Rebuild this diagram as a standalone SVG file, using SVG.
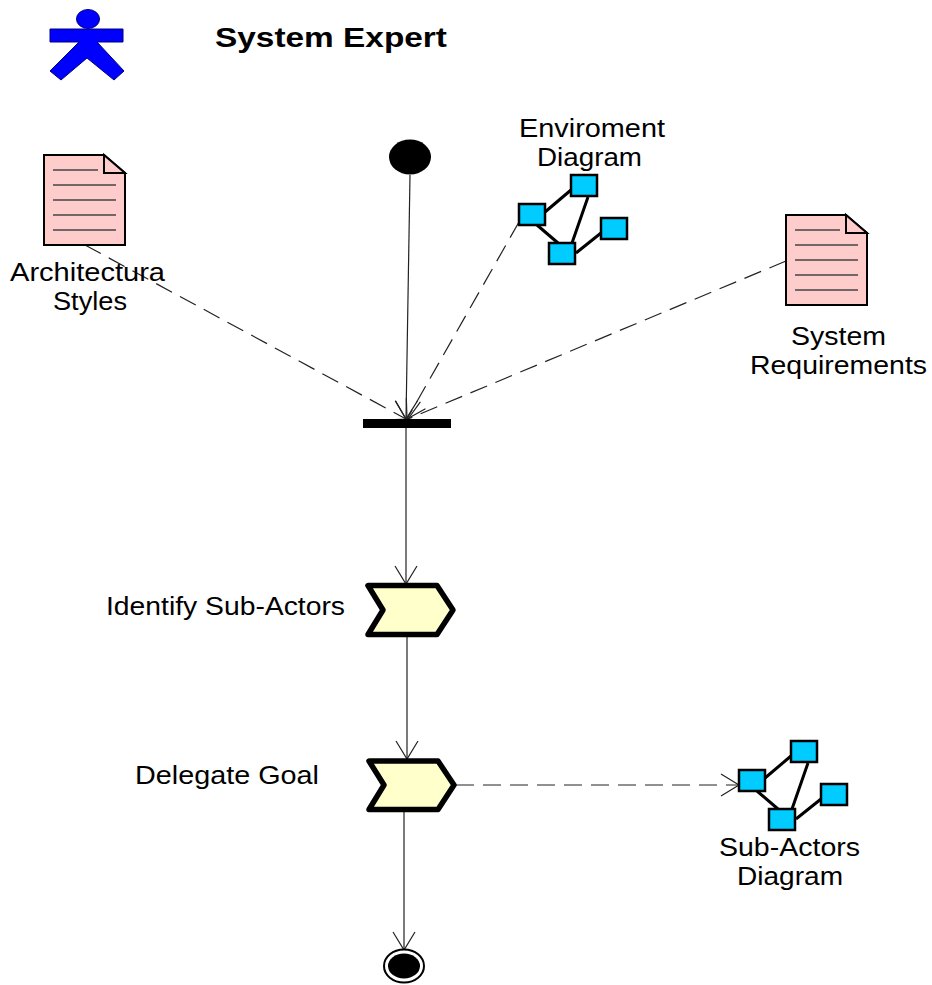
<svg xmlns="http://www.w3.org/2000/svg" width="932" height="985" viewBox="0 0 932 985">
<style>
text{font-family:"Liberation Sans",Arial,sans-serif;font-size:26px;fill:#000}
.title{font-weight:bold;font-size:28px}
.c{fill:none;stroke:#222;stroke-width:1.2;marker-end:url(#open)}
.d{stroke-dasharray:18 9}
.doc{fill:#ffcccc;stroke:#000;stroke-width:2}
.dl{stroke:#444;stroke-width:1.3}
.box{fill:#00ccff;stroke:#000;stroke-width:2.5}
.link{stroke:#000;stroke-width:3}
.act{fill:#ffffcc;stroke:#000;stroke-width:5.5;stroke-linejoin:round}
</style>
<defs>
<marker id="open" markerUnits="userSpaceOnUse" markerWidth="24" markerHeight="26" refX="21" refY="13" orient="auto" overflow="visible">
<path d="M3 2L21 13L3 24" fill="none" stroke="#222" stroke-width="1.2"/>
</marker>
<g id="doc">
<path class="doc" d="M0 0H60L81 18V90H0Z"/>
<path class="doc" d="M60 0V18H81Z"/>
<path class="dl" d="M9 15H54M9 30H72M9 45H72M9 60H72M9 75H72"/>
</g>
<g id="net">
<path class="link" d="M26 8L52 -14M18 21L39 39M69 -7L53 39M82 29L57 49"/>
<rect class="box" x="0" y="0" width="26" height="21"/>
<rect class="box" x="52" y="-29" width="26" height="21"/>
<rect class="box" x="82" y="14" width="26" height="21"/>
<rect class="box" x="30" y="39" width="26" height="21"/>
</g>
</defs>
<g id="connectors">
<line class="c" x1="410" y1="175" x2="406" y2="419"/>
<line class="c d" x1="85" y1="245" x2="406" y2="419"/>
<line class="c d" x1="519" y1="222" x2="407" y2="419"/>
<line class="c d" x1="786" y1="261" x2="408" y2="419"/>
<line class="c" x1="406" y1="428" x2="406" y2="584"/>
<line class="c" x1="407" y1="637" x2="407" y2="759"/>
<line class="c" x1="404" y1="812" x2="404" y2="950"/>
<line class="c d" x1="456" y1="785" x2="739" y2="785"/>
</g>
<g id="actor">
<ellipse cx="88" cy="19" rx="11.5" ry="9.5" fill="#0000ff" stroke="#000080"/>
<path d="M50 29H123V42H97L124 71L114 80L87 58L61 80L50 71L79 42H50Z" fill="#0000ff" stroke="#000080"/>
<text class="title" x="215" y="47" textLength="232" lengthAdjust="spacingAndGlyphs">System Expert</text>
</g>
<g id="start"><ellipse cx="410" cy="157" rx="21" ry="17.5" fill="#000"/></g>
<g id="architectural-styles">
<use href="#doc" x="44" y="155"/>
<text x="10" y="281" textLength="155" lengthAdjust="spacingAndGlyphs">Architectura</text>
<text x="53" y="310" textLength="74" lengthAdjust="spacingAndGlyphs">Styles</text>
</g>
<g id="environment-diagram">
<use href="#net" x="519" y="204"/>
<text x="519" y="137" textLength="146" lengthAdjust="spacingAndGlyphs">Enviroment</text>
<text x="537" y="166" textLength="105" lengthAdjust="spacingAndGlyphs">Diagram</text>
</g>
<g id="system-requirements">
<use href="#doc" x="786" y="215"/>
<text x="791" y="345" textLength="95" lengthAdjust="spacingAndGlyphs">System</text>
<text x="750" y="374" textLength="177" lengthAdjust="spacingAndGlyphs">Requirements</text>
</g>
<g id="fork"><rect x="363" y="419" width="88" height="9" fill="#000"/></g>
<g id="identify">
<path class="act" d="M368 585.5H437L453 610L437 634.5H368L383 610Z"/>
<text x="106" y="615" textLength="239" lengthAdjust="spacingAndGlyphs">Identify Sub-Actors</text>
</g>
<g id="delegate">
<path class="act" d="M369 761H438L454 785L438 809.5H369L384 785Z"/>
<text x="135" y="784" textLength="184" lengthAdjust="spacingAndGlyphs">Delegate Goal</text>
</g>
<g id="sub-actors-diagram">
<use href="#net" x="739" y="770"/>
<text x="719" y="856" textLength="141" lengthAdjust="spacingAndGlyphs">Sub-Actors</text>
<text x="737" y="885" textLength="106" lengthAdjust="spacingAndGlyphs">Diagram</text>
</g>
<g id="end">
<ellipse cx="404" cy="966" rx="20" ry="16.5" fill="#fff" stroke="#000" stroke-width="2"/>
<ellipse cx="404" cy="966" rx="16" ry="12.5" fill="#000"/>
</g>
</svg>
